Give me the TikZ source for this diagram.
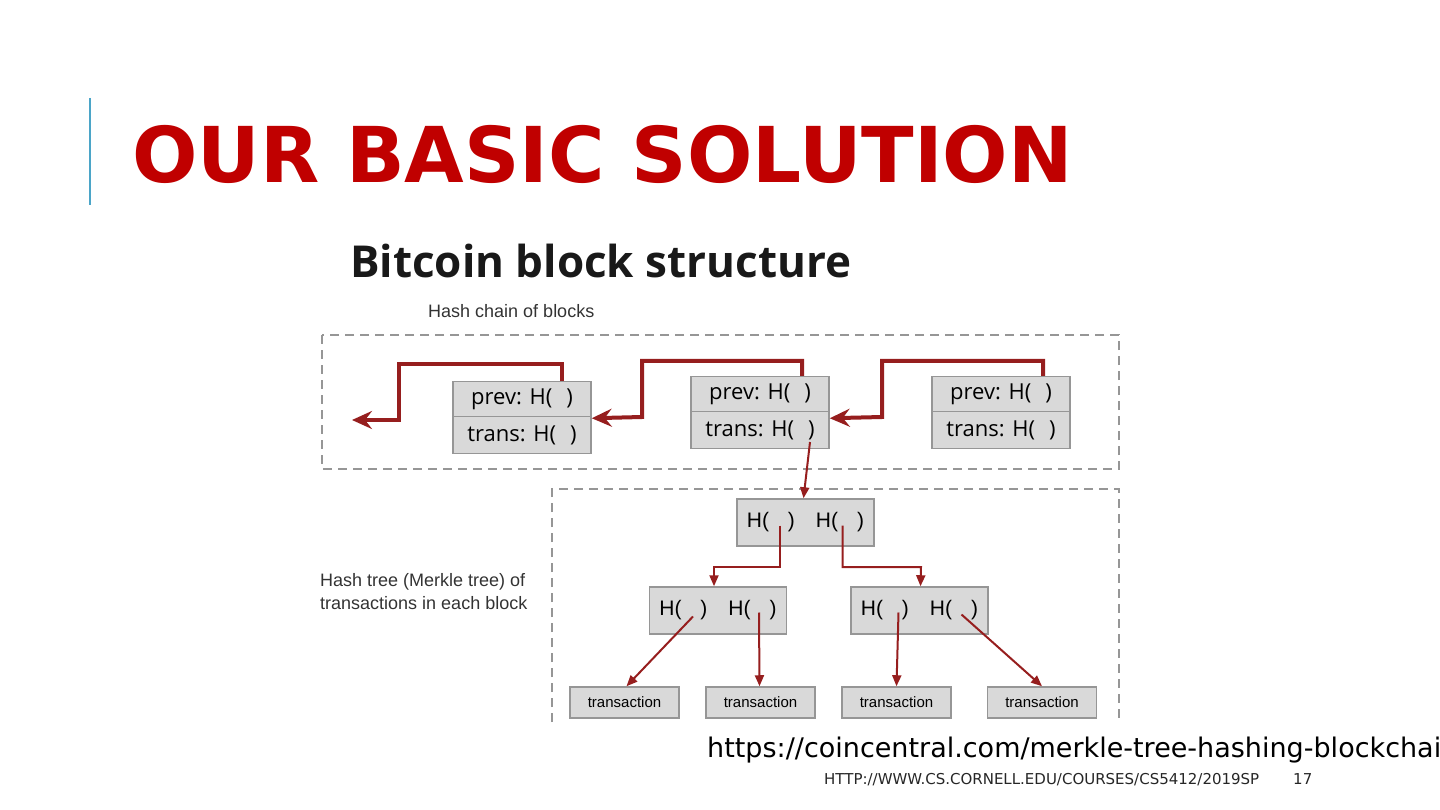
\documentclass[tikz,border=0pt]{standalone}
\usepackage{fontspec}
\setmainfont{DejaVu Sans}
\newfontfamily\arialfont{Liberation Sans}
\newfontfamily\bitfont{Open Sans}
\usetikzlibrary{arrows.meta}
\definecolor{titlered}{RGB}{192,0,0}
\definecolor{accentblue}{RGB}{75,165,200}
\definecolor{chainred}{RGB}{150,30,30}
\definecolor{boxfill}{RGB}{217,217,217}
\definecolor{boxedge}{RGB}{150,150,150}
\definecolor{dashgray}{RGB}{150,150,150}
\tikzset{
  hashbox/.style={draw=boxedge, fill=boxfill, line width=1.5pt, inner sep=0pt},
  blocktext/.style={font=\bitfont\fontsize{22}{26}\selectfont},
  treetext/.style={font=\arialfont\fontsize{21}{25}\selectfont},
  chainarrow/.style={draw=chainred, line width=4pt, -{Stealth[length=20pt,width=18pt,inset=7pt]}},
  treearrow/.style={draw=chainred, line width=2pt, -{Triangle[length=11pt,width=9pt]}},
  groupbox/.style={draw=dashgray, line width=2pt, dash pattern=on 9pt off 6pt}
}
\begin{document}
\begin{tikzpicture}[x=1pt,y=-1pt]
\useasboundingbox (0,0) rectangle (1440,810);
% slide title
\draw [accentblue, line width=2.5pt] (90,98) -- (90,205);
\node [anchor=base west, inner sep=0pt, text=titlered, font=\bfseries\fontsize{77}{90}\selectfont] (title) at (132,183) {OUR BASIC SOLUTION};
\node [anchor=base west, inner sep=0pt, text=black!90, font=\bitfont\bfseries\fontsize{44}{52}\selectfont] (heading) at (350,278) {Bitcoin block structure};
\node [anchor=base west, inner sep=0pt, text=black!80, font=\arialfont\fontsize{18}{22}\selectfont] (chainlabel) at (428,317) {Hash chain of blocks};
% dashed groups
\draw [groupbox] (322,335) rectangle (1119,469);
\draw [groupbox] (552,722) -- (552,489) -- (1119,489) -- (1119,722);
% blocks
\node [hashbox, blocktext, minimum width=138pt, minimum height=35pt] (p1) at (522,399) {prev: H(\hspace{14pt})};
\node [hashbox, blocktext, minimum width=138pt, minimum height=37pt] (t1) at (522,435) {trans: H(\hspace{14pt})};
\node [hashbox, blocktext, minimum width=138pt, minimum height=35pt] (p2) at (760,394) {prev: H(\hspace{14pt})};
\node [hashbox, blocktext, minimum width=138pt, minimum height=37pt] (t2) at (760,430) {trans: H(\hspace{14pt})};
\node [hashbox, blocktext, minimum width=138pt, minimum height=35pt] (p3) at (1001,394) {prev: H(\hspace{14pt})};
\node [hashbox, blocktext, minimum width=138pt, minimum height=37pt] (t3) at (1001,430) {trans: H(\hspace{14pt})};
\coordinate (genesis) at (352,420);
\draw [chainarrow] ([xshift=40pt]p1.north) -- ++(0,-17) -| (399,420) -- (genesis);
\draw [chainarrow] ([xshift=42pt]p2.north) -- ++(0,-15) -| (642,417) -- ([yshift=-1pt]p1.south east);
\draw [chainarrow] ([xshift=42pt]p3.north) -- ++(0,-15) -| (882,417) -- ([yshift=-6pt]p2.south east);
% merkle tree
\node [anchor=west, inner sep=0pt, align=left, text=black!80, font=\arialfont\fontsize{18}{23}\selectfont] (treelabel) at (320,592) {Hash tree (Merkle tree) of\\transactions in each block};
\node [hashbox, treetext, minimum width=137pt, minimum height=47pt] (root) at (805.5,522.5) {H(\hspace{19pt})\hspace{21pt}H(\hspace{19pt})};
\node [hashbox, treetext, minimum width=137pt, minimum height=47pt] (hl) at (718,610.5) {H(\hspace{19pt})\hspace{21pt}H(\hspace{19pt})};
\node [hashbox, treetext, minimum width=137pt, minimum height=47pt] (hr) at (919.5,610.5) {H(\hspace{19pt})\hspace{21pt}H(\hspace{19pt})};
\foreach \i/\x in {1/624.5, 2/760.5, 3/896.5, 4/1042} {
  \node [hashbox, minimum width=109pt, minimum height=31pt, font=\arialfont\fontsize{15}{18}\selectfont] (tx\i) at (\x,702.5) {transaction};
}
\draw [treearrow] ([xshift=50pt,yshift=-12pt]t2.center) -- ([xshift=-2pt]root.north);
\draw [treearrow] ([xshift=-26pt,yshift=-3pt]root.center) |- (714,567) -- ([xshift=-4pt]hl.north);
\draw [treearrow] ([xshift=37pt,yshift=-3pt]root.center) |- (921,567) -- ([xshift=1pt]hr.north);
\draw [treearrow] ([xshift=-25pt,yshift=-6pt]hl.center) -- ([xshift=2pt]tx1.north);
\draw [treearrow] ([xshift=41pt,yshift=-2pt]hl.center) -- ([xshift=-1pt]tx2.north);
\draw [treearrow] ([xshift=-21pt,yshift=-2pt]hr.center) -- (tx3.north);
\draw [treearrow] ([xshift=42pt,yshift=-4pt]hr.center) -- (tx4.north);
% source and footer
\node [anchor=base west, inner sep=0pt, font=\fontsize{27}{32}\selectfont] (source) at (707,757) {https://coincentral.com/merkle-tree-hashing-blockchai};
\node [anchor=base west, inner sep=0pt, text=black!85, font=\fontsize{15}{18}\selectfont] (footer) at (824,784) {HTTP://WWW.CS.CORNELL.EDU/COURSES/CS5412/2019SP};
\node [anchor=base west, inner sep=0pt, text=black!85, font=\fontsize{15}{18}\selectfont] (pagenum) at (1293,784) {17};
\end{tikzpicture}
\end{document}
